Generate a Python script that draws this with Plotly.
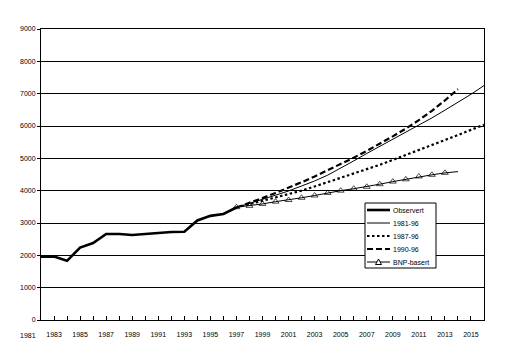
import plotly.graph_objects as go

# Observed series
obs_years = list(range(1981, 1997))
obs_values = [1960, 1960, 1830, 2240, 2380, 2660, 2660, 2630, 2660, 2700, 2720, 2730, 3080, 3220, 3280, 3480]

# Projections
proj_years_a = list(range(1996, 2016))
p8196 = [3480, 3600, 3730, 3860, 3990, 4140, 4300, 4480, 4690, 4920, 5150, 5370, 5590, 5800, 6020, 6250, 6490, 6730, 6980, 7250]
p8796 = [3480, 3580, 3690, 3800, 3900, 4000, 4130, 4260, 4390, 4520, 4660, 4800, 4950, 5100, 5250, 5400, 5560, 5720, 5880, 6040]
proj_years_b = list(range(1996, 2014))
p9096 = [3480, 3620, 3770, 3930, 4090, 4260, 4440, 4630, 4820, 5020, 5230, 5450, 5680, 5920, 6180, 6470, 6790, 7140]
bnp = [3490, 3530, 3590, 3660, 3710, 3780, 3850, 3930, 4000, 4060, 4120, 4200, 4280, 4350, 4440, 4490, 4550, 4590]

series_names = ["Observert", "1981-96", "1987-96", "1990-96", "BNP-basert"]

x_tick_pos = list(range(1982, 2015, 2))
x_tick_text = [str(y + 1) for y in x_tick_pos]
first_label_pos = 1980
first_label_text = "1981"
y_ticks = [0, 1000, 2000, 3000, 4000, 5000, 6000, 7000, 8000, 9000]

FONT = "Liberation Sans, Arial, sans-serif"
X0, X1 = 1981, 2015

styles = [
    dict(color="black", width=2.6),
    dict(color="black", width=1),
    dict(color="black", width=2.2, dash="2.5px,2.5px"),
    dict(color="black", width=2.2, dash="6px,3px"),
    dict(color="black", width=1),
]

fig = go.Figure()
fig.add_trace(go.Scatter(x=obs_years, y=obs_values, name=series_names[0], mode="lines", line=styles[0]))
fig.add_trace(go.Scatter(x=proj_years_a, y=p8196, name=series_names[1], mode="lines", line=styles[1]))
fig.add_trace(go.Scatter(x=proj_years_a, y=p8796, name=series_names[2], mode="lines", line=styles[2]))
fig.add_trace(go.Scatter(x=proj_years_b, y=p9096, name=series_names[3], mode="lines", line=styles[3]))
fig.add_trace(go.Scatter(x=proj_years_b, y=bnp, name=series_names[4], mode="lines+markers", line=styles[4],
                         marker=dict(symbol="triangle-up-open", size=[6] * (len(bnp) - 1) + [0],
                                     color="black", line=dict(width=1))))

fig.add_annotation(x=(first_label_pos - X0) / (X1 - X0), y=-0.052, xref="paper", yref="paper",
                   text=first_label_text, showarrow=False, xanchor="center",
                   font=dict(family=FONT, size=7, color="black"), yanchor="middle")

# Manual legend (plot area is 443 x 291 px)
PW, PH = 443.0, 291.0
def px(xp):
    return (xp - 41) / PW
def py(yp):
    return (320 - yp) / PH

fig.add_shape(type="rect", xref="paper", yref="paper", x0=px(365), x1=px(436), y0=py(203), y1=py(268),
              fillcolor="white", line=dict(color="black", width=1), layer="above")
row_y = [210, 223, 236, 249, 262]
for name, st, ry in zip(series_names, styles, row_y):
    fig.add_shape(type="line", xref="paper", yref="paper", x0=px(367), x1=px(390), y0=py(ry), y1=py(ry),
                  line=st, layer="above")
    fig.add_annotation(x=px(391), y=py(ry), xref="paper", yref="paper", text=name, showarrow=False,
                       xanchor="left", yanchor="middle", font=dict(family=FONT, size=7, color="black"))
fig.add_shape(type="path", xref="paper", yref="paper", xsizemode="pixel", ysizemode="pixel",
              xanchor=px(378.5), yanchor=py(row_y[4]), path="M -3 -2.5 L 3 -2.5 L 0 3 Z",
              fillcolor="white", line=dict(color="black", width=1), layer="above")

fig.update_layout(
    width=512, height=357,
    margin=dict(l=41, r=28, t=29, b=37),
    paper_bgcolor="white", plot_bgcolor="white",
    font=dict(family=FONT, size=7, color="black"),
    showlegend=False,
    xaxis=dict(range=[X0, X1], showgrid=False, zeroline=False,
               showline=True, linecolor="black", linewidth=1, mirror=True,
               tickmode="array", tickvals=x_tick_pos, ticktext=x_tick_text,
               ticks="inside", ticklen=4, tickcolor="black",
               minor=dict(dtick=1, tick0=1981, ticks="inside", ticklen=4, tickcolor="black"),
               tickfont=dict(family=FONT, size=7, color="black"), ticklabelstandoff=8),
    yaxis=dict(range=[0, 9000], tickvals=y_ticks, showgrid=True, gridcolor="black", gridwidth=1,
               zeroline=False, showline=True, linecolor="black", linewidth=1, mirror=True,
               ticks="outside", ticklen=3, tickcolor="black",
               tickfont=dict(family=FONT, size=7, color="black")),
)

fig.write_html("out.html", config={"displayModeBar": False},
               post_script="document.body.style.margin='0';")
